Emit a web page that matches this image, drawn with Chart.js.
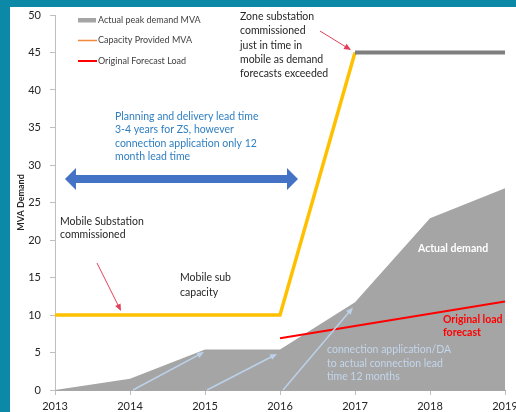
<!DOCTYPE html>
<html>
<head>
<meta charset="utf-8">
<script src="https://cdn.jsdelivr.net/npm/chart.js@4.4.1/dist/chart.umd.min.js"></script>
<style>
  html, body { margin: 0; padding: 0; width: 516px; height: 412px; overflow: hidden; background: #0B89A6; }
  #panel { position: absolute; left: 10px; top: 7px; width: 506px; height: 405px; background: #ffffff; }
  #c { position: absolute; left: 0; top: 0; }
</style>
</head>
<body>
<div id="panel"></div>
<canvas id="c" width="516" height="412"></canvas>
<script>
// Years on the horizontal axis
const years = ['2013', '2014', '2015', '2016', '2017', '2018', '2019'];

// Actual peak demand (MVA), drawn as a filled area
const actualDemand = [0, 1.5, 5.4, 5.4, 11.7, 22.9, 26.9];

// Capacity provided (MVA): mobile substation, then the zone substation from 2017
const capacityProvided = [10, 10, 10, 10, 45, 45, 45];

// Original forecast load (MVA), 2016 to 2019
const originalForecast = [null, null, null, 6.9, null, null, 11.8];

// Vertical axis range and step
const yMin = 0, yMax = 50, yStep = 5;

const FONT = 'Lato, "Open Sans", sans-serif';

// Free text placed on the plot, anchored at (year, MVA) of the first line's left edge
const notes = [
  { lines: ['Zone substation', 'commissioned', 'just in time in', 'mobile as demand', 'forecasts exceeded'],
    x: 2015.467, y: 49.77, lh: 14.3, color: '#262626', weight: '400', size: 10.5 },
  { lines: ['Planning and delivery lead time', '3-4 years for ZS, however', 'connection application only 12', 'month lead time'],
    x: 2013.8, y: 36.44, lh: 13.4, color: '#2F7FC1', weight: '400', size: 10.5 },
  { lines: ['Mobile Substation', 'commissioned'],
    x: 2013.067, y: 22.44, lh: 13.4, color: '#262626', weight: '400', size: 10.5 },
  { lines: ['Mobile sub', 'capacity'],
    x: 2014.667, y: 14.93, lh: 15, color: '#262626', weight: '400', size: 10.5 },
  { lines: ['Actual demand'],
    x: 2017.84, y: 18.8, lh: 14, color: '#ffffff', weight: '700', size: 10.5 },
  { lines: ['Original load', 'forecast'],
    x: 2018.173, y: 9.43, lh: 13.4, color: '#FF0000', weight: '700', size: 10.5 },
  { lines: ['connection application/DA', 'to actual connection lead', 'time 12 months'],
    x: 2016.627, y: 5.33, lh: 13.4, color: '#C3D6EC', weight: '400', size: 10.5 }
];

// Thin pointer arrows: from (year, MVA) to (year, MVA)
const pointers = [
  { from: [2016.533, 47.87], to: [2016.947, 45.33], color: '#E2405A', width: 1 },
  { from: [2013.56, 16.93], to: [2013.88, 10.53], color: '#E2405A', width: 1 },
  { from: [2014.04, 0], to: [2014.987, 5.07], color: '#BCD1EA', width: 1.5 },
  { from: [2015.027, 0], to: [2015.96, 4.8], color: '#BCD1EA', width: 1.5 },
  { from: [2016.04, 0], to: [2016.973, 11.0], color: '#BCD1EA', width: 1.5 }
];

// Lead-time span shown as a double-headed block arrow
const leadSpan = { from: 2013.133, to: 2016.24, y: 28.13, color: '#4472C4' };

function toPx(chart, yr, v) {
  const xs = chart.scales.x, ys = chart.scales.y;
  const frac = (yr - Number(years[0])) / (years.length - 1);
  return [xs.getPixelForDecimal(frac), ys.getPixelForValue(v)];
}

function drawHead(ctx, x0, y0, x1, y1, len, half, color) {
  const a = Math.atan2(y1 - y0, x1 - x0);
  ctx.beginPath();
  ctx.moveTo(x1, y1);
  ctx.lineTo(x1 - len * Math.cos(a) + half * Math.sin(a), y1 - len * Math.sin(a) - half * Math.cos(a));
  ctx.lineTo(x1 - len * Math.cos(a) - half * Math.sin(a), y1 - len * Math.sin(a) + half * Math.cos(a));
  ctx.closePath();
  ctx.fillStyle = color;
  ctx.fill();
}

const notesPlugin = {
  id: 'notes',
  afterDatasetsDraw(chart) {
    const ctx = chart.ctx;
    ctx.save();

    // block arrow
    const [ax0, ay] = toPx(chart, leadSpan.from, leadSpan.y);
    const [ax1] = toPx(chart, leadSpan.to, leadSpan.y);
    const hl = 11, hh = 11, sh = 4;
    ctx.beginPath();
    ctx.moveTo(ax0, ay);
    ctx.lineTo(ax0 + hl, ay - hh);
    ctx.lineTo(ax0 + hl, ay - sh);
    ctx.lineTo(ax1 - hl, ay - sh);
    ctx.lineTo(ax1 - hl, ay - hh);
    ctx.lineTo(ax1, ay);
    ctx.lineTo(ax1 - hl, ay + hh);
    ctx.lineTo(ax1 - hl, ay + sh);
    ctx.lineTo(ax0 + hl, ay + sh);
    ctx.lineTo(ax0 + hl, ay + hh);
    ctx.closePath();
    ctx.fillStyle = leadSpan.color;
    ctx.fill();

    // pointer arrows
    pointers.forEach(p => {
      const [x0, y0] = toPx(chart, p.from[0], p.from[1]);
      const [x1, y1] = toPx(chart, p.to[0], p.to[1]);
      const a = Math.atan2(y1 - y0, x1 - x0);
      ctx.beginPath();
      ctx.moveTo(x0, y0);
      ctx.lineTo(x1 - 5 * Math.cos(a), y1 - 5 * Math.sin(a));
      ctx.strokeStyle = p.color;
      ctx.lineWidth = p.width;
      ctx.stroke();
      drawHead(ctx, x0, y0, x1, y1, 7, 3, p.color);
    });

    // text
    ctx.textBaseline = 'middle';
    ctx.textAlign = 'left';
    notes.forEach(n => {
      const [x, y] = toPx(chart, n.x, n.y);
      ctx.font = `${n.weight} ${n.size}px ${FONT}`;
      ctx.fillStyle = n.color;
      n.lines.forEach((t, i) => ctx.fillText(t, x, y + i * n.lh));
    });
    ctx.restore();
  }
};

const legendPlugin = {
  id: 'insetLegend',
  afterDraw(chart) {
    const ctx = chart.ctx;
    const area = chart.chartArea;
    ctx.save();
    ctx.font = `400 9px ${FONT}`;
    ctx.textBaseline = 'middle';
    ctx.textAlign = 'left';
    chart.data.datasets.forEach((ds, i) => {
      const cy = area.top + 5 + i * 20.5;
      const x = area.left + 23;
      if (ds.fill) {
        ctx.fillStyle = ds.backgroundColor;
        ctx.fillRect(x, cy - 2, 18, 4.5);
      } else {
        ctx.strokeStyle = ds.legendColor;
        ctx.lineWidth = i === 1 ? 1.5 : 2;
        ctx.beginPath();
        ctx.moveTo(x, cy);
        ctx.lineTo(x + 19, cy);
        ctx.stroke();
      }
      ctx.fillStyle = '#404040';
      ctx.fillText(ds.label, x + 20, cy);
    });
    ctx.restore();
  }
};

new Chart(document.getElementById('c'), {
  type: 'line',
  data: {
    labels: years,
    datasets: [
      {
        label: 'Actual peak demand MVA',
        data: actualDemand,
        fill: 'origin',
        backgroundColor: '#A5A5A5',
        borderWidth: 0,
        pointRadius: 0,
        order: 2
      },
      {
        label: 'Capacity Provided MVA',
        data: capacityProvided,
        fill: false,
        borderColor: '#FFC000',
        legendColor: '#F08A3A',
        borderWidth: 3.5,
        pointRadius: 0,
        order: 1,
        segment: {
          borderColor: c => c.p0DataIndex >= 4 ? '#7F7F7F' : '#FFC000',
          borderWidth: c => c.p0DataIndex >= 4 ? 4 : 3.5
        }
      },
      {
        label: 'Original Forecast Load',
        data: originalForecast,
        fill: false,
        spanGaps: true,
        borderColor: '#FF0000',
        legendColor: '#FF0000',
        borderWidth: 2,
        pointRadius: 0,
        order: 0
      }
    ]
  },
  options: {
    responsive: false,
    devicePixelRatio: 1,
    animation: false,
    layout: { padding: { left: 10, top: 15, right: 11, bottom: 0 } },
    plugins: { legend: { display: false }, tooltip: { enabled: false } },
    elements: { line: { tension: 0 } },
    scales: {
      x: {
        offset: false,
        grid: { display: true, drawOnChartArea: false, drawTicks: true, tickLength: 5, color: '#BFBFBF' },
        border: { color: '#A6A6A6', width: 1 },
        ticks: { color: '#262626', font: { family: FONT, size: 11 }, padding: 5, maxRotation: 0, autoSkip: false },
        afterFit: s => { s.height = 22; s.paddingLeft = 0; s.paddingRight = 0; }
      },
      y: {
        min: yMin, max: yMax,
        grid: { display: true, drawOnChartArea: false, drawTicks: true, tickLength: 5, color: '#BFBFBF' },
        border: { color: '#BFBFBF', width: 1 },
        ticks: { stepSize: yStep, color: '#262626', font: { family: FONT, size: 11 }, padding: 9 },
        title: { display: true, text: 'MVA Demand', color: '#262626', font: { family: FONT, size: 9, weight: '700' }, padding: { top: 5.5, bottom: 0 } },
        afterFit: s => { s.width = 45; s.paddingTop = 0; s.paddingBottom = 0; }
      }
    }
  },
  plugins: [notesPlugin, legendPlugin]
});
</script>
</body>
</html>
